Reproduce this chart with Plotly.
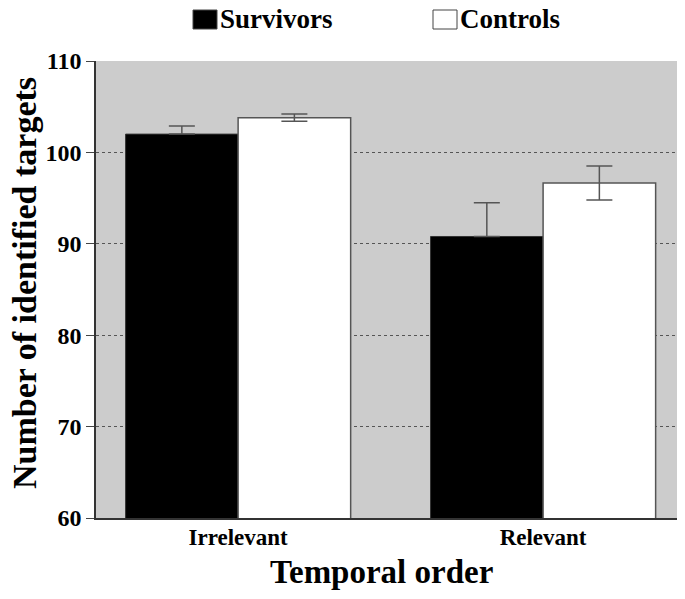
import plotly.graph_objects as go

categories = ["Irrelevant", "Relevant"]
survivors = [102.0, 90.8]
survivors_err = [0.9, 3.7]
controls = [103.8, 96.65]
controls_err = [0.4, 1.85]
y_ticks = [60, 70, 80, 90, 100, 110]

font_family = "Liberation Serif, Times New Roman, serif"

# page body has an 8px default margin; compensate so the picture lands in place
OFF = 8
W, H = 685 - OFF, 599 - OFF
L, T = 96 - OFF, 61 - OFF
pw, ph = 588, 457
R = W - L - pw
B = H - T - ph

def px_x(px):
    return (px - OFF - L) / pw

def px_y(py):
    return (T + ph - (py - OFF)) / ph

fig = go.Figure()
fig.add_trace(go.Bar(
    x=categories, y=survivors, name="Survivors",
    marker=dict(color="black", line=dict(color="#333333", width=1)),
    error_y=dict(type="data", array=survivors_err, arrayminus=[0, 0], visible=True,
                 color="#555555", thickness=1.5, width=13),
    showlegend=False,
))
fig.add_trace(go.Bar(
    x=categories, y=controls, name="Controls",
    marker=dict(color="white", line=dict(color="#555555", width=1.5)),
    error_y=dict(type="data", array=controls_err, visible=True,
                 color="#555555", thickness=1.5, width=13),
    showlegend=False,
))

# legend drawn as shapes + text
legend_items = [("Survivors", "black", 193), ("Controls", "white", 433)]
for label, col, px in legend_items:
    fig.add_shape(type="rect", xref="paper", yref="paper",
                  x0=px_x(px), x1=px_x(px + 24),
                  y0=px_y(29), y1=px_y(10),
                  fillcolor=col, line=dict(color="#444444", width=1))
    fig.add_annotation(xref="paper", yref="paper",
                       x=px_x(px + 25), y=px_y(19),
                       xanchor="left", yanchor="middle", showarrow=False,
                       text="<b>%s</b>" % label,
                       font=dict(family=font_family, size=27, color="black"))

# axis titles
fig.add_annotation(xref="paper", yref="paper", x=px_x(381), y=px_y(572),
                   xanchor="center", yanchor="middle", showarrow=False,
                   text="<b>Temporal order</b>",
                   font=dict(family=font_family, size=33, color="black"))
fig.add_annotation(xref="paper", yref="paper", x=px_x(24), y=px_y(283),
                   xanchor="center", yanchor="middle", showarrow=False, textangle=-90,
                   text="<b>Number of identified targets</b>",
                   font=dict(family=font_family, size=34, color="black"))

fig.update_layout(
    width=W, height=H,
    margin=dict(l=L, r=R, t=T, b=B),
    plot_bgcolor="#cccccc", paper_bgcolor="white",
    barmode="group", bargap=0.262, bargroupgap=0,
    font=dict(family=font_family, color="black"),
)
fig.update_xaxes(
    range=[-0.466, 1.462], automargin=False,
    tickfont=dict(family=font_family, size=23, weight="bold"),
    showline=True, linecolor="#333333", linewidth=1.5,
    ticks="", ticklabelstandoff=-2,
)
fig.update_yaxes(
    range=[60, 110], tickvals=y_ticks, automargin=False,
    tickfont=dict(family=font_family, size=24, weight="bold"),
    showgrid=True, gridcolor="#555555", griddash="dot", gridwidth=1,
    showline=True, linecolor="#333333", linewidth=1.5,
    ticks="outside", ticklen=8, tickcolor="#444444",
    zeroline=False,
)

fig.write_html("out.html")
